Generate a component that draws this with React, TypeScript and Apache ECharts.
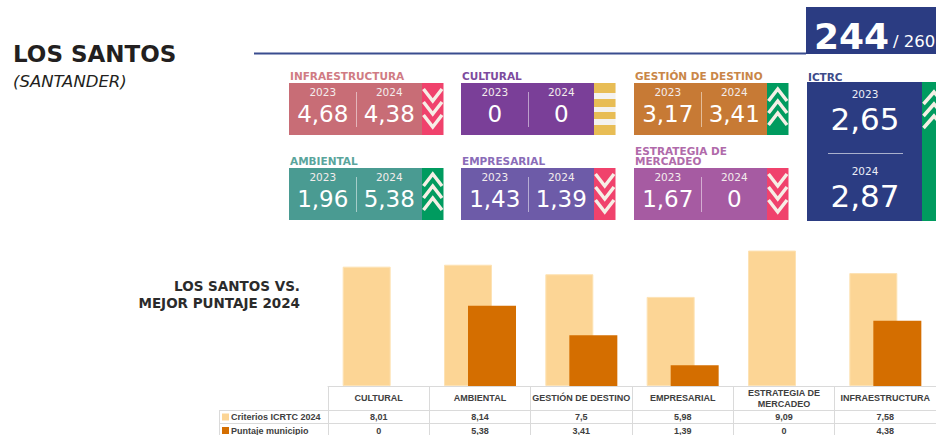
import React, { useEffect, useRef } from 'react';
import * as echarts from 'echarts';

// ---- Data ----
const municipio = 'LOS SANTOS';
const departamento = '(SANTANDER)';
const rankValue = 244;
const rankTotal = 260;

const cardNames = ['INFRAESTRUCTURA', 'CULTURAL', 'GESTIÓN DE DESTINO', 'AMBIENTAL', 'EMPRESARIAL', 'ESTRATEGIA DE\nMERCADEO'];
const cardValues2023 = [4.68, 0, 3.17, 1.96, 1.43, 1.67];
const cardValues2024 = [4.38, 0, 3.41, 5.38, 1.39, 0];
const cardYears = ['2023', '2024'];
const ictrcLabel = 'ICTRC';
const ictrcValues = [2.65, 2.87];

const chartTitle = 'LOS SANTOS VS.\nMEJOR PUNTAJE 2024';
const categories = ['CULTURAL', 'AMBIENTAL', 'GESTIÓN DE DESTINO', 'EMPRESARIAL', 'ESTRATEGIA DE\nMERCADEO', 'INFRAESTRUCTURA'];
const criterios2024 = [8.01, 8.14, 7.5, 5.98, 9.09, 7.58];
const puntajeMunicipio = [0, 5.38, 3.41, 1.39, 0, 4.38];
const seriesNames = ['Criterios ICRTC 2024', 'Puntaje municipio'];

// ---- Styles ----
const fmt = (v: number) => String(v).replace('.', ',');
const HEAD = 'DejaVu Sans';
const TABLE = 'Liberation Sans';
const cardMain = ['#c86d76', '#7a3f98', '#c77a35', '#4a9b92', '#6d5ba8', '#a65ba2'];
const cardLabel = ['#d07b83', '#7d4b9e', '#c98648', '#5aa59c', '#8a6cb8', '#b06aaa'];
const UP = '#009b5f';
const DOWN = '#f0426c';
const FLAT = '#e8bd55';
const CHEV = '#f6efe6';
const NAVY = '#2b3c82';
const LIGHT = '#fcd595';
const DARK = '#d46e00';
const colX = [289, 461, 634];
const rowY = [83, 168];
const MAINW = 133;
const STRIPW = 21.5;
const CARDH = 52;

function chevrons(x0: number, w: number, up: boolean, starts: number[]) {
  return starts.map((yy) => ({
    type: 'polyline',
    shape: {
      points: up
        ? [[x0 + 1.5, yy + 12], [x0 + w / 2, yy], [x0 + w - 1.5, yy + 12]]
        : [[x0 + 1.5, yy], [x0 + w / 2, yy + 12], [x0 + w - 1.5, yy]],
    },
    style: { stroke: CHEV, lineWidth: 3.5, fill: null, lineJoin: 'miter' },
    silent: true,
  }));
}

function buildGraphics() {
  const g: any[] = [];
  // Title
  g.push({ type: 'text', x: 13, y: 54, style: { text: municipio, fill: '#231f20', fontFamily: HEAD, fontWeight: 'bold', fontSize: 23, verticalAlign: 'middle' } });
  g.push({ type: 'text', x: 13, y: 81, style: { text: departamento, fill: '#231f20', fontFamily: HEAD, fontStyle: 'italic', fontSize: 16.5, verticalAlign: 'middle' } });
  // header line & rank box
  g.push({ type: 'line', shape: { x1: 254, y1: 53.5, x2: 806, y2: 53.5 }, style: { stroke: '#3a4d8f', lineWidth: 2 } });
  g.push({ type: 'rect', shape: { x: 806, y: 7, width: 140, height: 47 }, style: { fill: NAVY } });
  g.push({ type: 'text', x: 814, y: 36, style: { text: String(rankValue), fill: '#ffffff', fontFamily: HEAD, fontWeight: 'bold', fontSize: 36, verticalAlign: 'middle' } });
  g.push({ type: 'text', x: 893, y: 41, style: { text: '/ ' + rankTotal, fill: '#ffffff', fontFamily: HEAD, fontSize: 16.5, verticalAlign: 'middle' } });

  // cards
  cardNames.forEach((name, i) => {
    const x = colX[i % 3];
    const y = rowY[Math.floor(i / 3)];
    const v23 = cardValues2023[i];
    const v24 = cardValues2024[i];
    g.push({ type: 'text', x: x + 1, y: y - 1.5, style: { text: name, fill: cardLabel[i], fontFamily: HEAD, fontWeight: 'bold', fontSize: 10.5, lineHeight: 10.5, verticalAlign: 'bottom' } });
    g.push({ type: 'rect', shape: { x, y, width: MAINW, height: CARDH }, style: { fill: cardMain[i] } });
    const sx = x + MAINW;
    if (v24 > v23) {
      g.push({ type: 'rect', shape: { x: sx, y, width: STRIPW, height: CARDH }, style: { fill: UP } });
      g.push(...chevrons(sx, STRIPW, true, [y + 6, y + 18, y + 30]));
    } else if (v24 < v23) {
      g.push({ type: 'rect', shape: { x: sx, y, width: STRIPW, height: CARDH }, style: { fill: DOWN } });
      g.push(...chevrons(sx, STRIPW, false, [y + 6, y + 19, y + 32]));
    } else {
      g.push({ type: 'rect', shape: { x: sx, y, width: STRIPW, height: CARDH }, style: { fill: '#f4f2f0' } });
      [[0, 10], [16, 8], [29, 7], [42, 10]].forEach(([o, h]) => {
        g.push({ type: 'rect', shape: { x: sx, y: y + o, width: STRIPW, height: h }, style: { fill: FLAT } });
      });
    }
    const half = MAINW / 2;
    g.push({ type: 'line', shape: { x1: x + half + 1, y1: y + 9, x2: x + half + 1, y2: y + 44 }, style: { stroke: 'rgba(255,255,255,0.5)', lineWidth: 1 } });
    [v23, v24].forEach((v, k) => {
      const cx = x + half / 2 + k * half + 0.5;
      g.push({ type: 'text', x: cx, y: y + 9, style: { text: cardYears[k], fill: '#f3ecec', fontFamily: HEAD, fontSize: 10.5, align: 'center', verticalAlign: 'middle' } });
      g.push({ type: 'text', x: cx, y: y + 31, style: { text: fmt(v), fill: '#ffffff', fontFamily: HEAD, fontSize: 23, align: 'center', verticalAlign: 'middle' } });
    });
  });

  // ICTRC
  g.push({ type: 'text', x: 808, y: 76.5, style: { text: ictrcLabel, fill: '#3d4b8a', fontFamily: HEAD, fontWeight: 'bold', fontSize: 10.5, verticalAlign: 'middle' } });
  g.push({ type: 'rect', shape: { x: 807, y: 82, width: 115, height: 139 }, style: { fill: NAVY } });
  g.push({ type: 'rect', shape: { x: 922, y: 82, width: 24, height: 139 }, style: { fill: UP } });
  g.push(...chevrons(922, 24, true, [92, 104, 116]));
  g.push({ type: 'line', shape: { x1: 828, y1: 153.5, x2: 903, y2: 153.5 }, style: { stroke: 'rgba(255,255,255,0.6)', lineWidth: 1 } });
  ictrcValues.forEach((v, k) => {
    const base = k === 0 ? 94 : 171;
    g.push({ type: 'text', x: 865, y: base, style: { text: cardYears[k], fill: '#eceef6', fontFamily: HEAD, fontSize: 10.5, align: 'center', verticalAlign: 'middle' } });
    g.push({ type: 'text', x: 865, y: base + 24.5, style: { text: fmt(v), fill: '#ffffff', fontFamily: HEAD, fontSize: 31, align: 'center', verticalAlign: 'middle' } });
  });

  // chart title
  g.push({ type: 'text', x: 300, y: 294.5, style: { text: chartTitle, fill: '#2b2b2b', fontFamily: HEAD, fontWeight: 'bold', fontSize: 13.5, lineHeight: 16.5, align: 'right', verticalAlign: 'middle' } });

  // table lines
  const gray = '#dadada';
  g.push({ type: 'line', shape: { x1: 219, y1: 410.5, x2: 946, y2: 410.5 }, style: { stroke: gray, lineWidth: 1 } });
  g.push({ type: 'line', shape: { x1: 219, y1: 423.5, x2: 946, y2: 423.5 }, style: { stroke: gray, lineWidth: 1 } });
  g.push({ type: 'line', shape: { x1: 219.5, y1: 410.5, x2: 219.5, y2: 435 }, style: { stroke: gray, lineWidth: 1 } });

  // table legend column
  [LIGHT, DARK].forEach((c, k) => {
    const cy = k === 0 ? 417 : 430.5;
    g.push({ type: 'rect', shape: { x: 222, y: cy - 3.5, width: 7, height: 7 }, style: { fill: c } });
    g.push({ type: 'text', x: 231, y: cy, style: { text: seriesNames[k], fill: '#404040', fontFamily: TABLE, fontWeight: 'bold', fontSize: 9, verticalAlign: 'middle' } });
  });
  return g;
}

export default function App() {
  const ref = useRef<HTMLDivElement>(null);
  useEffect(() => {
    if (!ref.current) return;
    const chart = echarts.init(ref.current, null, { renderer: 'svg' });
    const labelAxis = (labels: string[], margin: number) => ({
      type: 'category',
      gridIndex: 0,
      position: 'bottom',
      data: labels,
      axisLine: { show: false },
      axisTick: { show: false },
      axisLabel: {
        interval: 0,
        margin,
        color: '#404040',
        fontFamily: TABLE,
        fontWeight: 'bold',
        fontSize: 9,
        verticalAlign: 'middle',
      },
    });
    chart.setOption({
      animation: false,
      backgroundColor: '#ffffff',
      grid: { left: 328, top: 237, width: 618, height: 149, containLabel: false },
      xAxis: [
        {
          type: 'category',
          data: categories,
          axisLine: { show: true, lineStyle: { color: '#dadada', width: 1 } },
          axisTick: { show: true, length: 49, lineStyle: { color: '#dadada' } },
          axisLabel: {
            interval: 0,
            margin: 12,
            color: '#404040',
            fontFamily: TABLE,
            fontWeight: 'bold',
            fontSize: 9,
            lineHeight: 11,
            align: 'center',
            verticalAlign: 'middle',
          },
        },
        labelAxis(criterios2024.map(fmt), 31),
        labelAxis(puntajeMunicipio.map(fmt), 44.5),
      ],
      yAxis: { type: 'value', min: 0, max: 10, show: false, splitLine: { show: false } },
      series: [
        {
          name: seriesNames[0],
          type: 'bar',
          data: criterios2024,
          barWidth: 48,
          barGap: '-50%',
          itemStyle: { color: LIGHT, borderColor: '#fde2b4', borderWidth: 1 },
        },
        {
          name: seriesNames[1],
          type: 'bar',
          data: puntajeMunicipio,
          barWidth: 48,
          barGap: '-50%',
          itemStyle: { color: DARK, borderWidth: 0 },
        },
      ],
      graphic: buildGraphics(),
    });
    return () => chart.dispose();
  }, []);
  return <div ref={ref} style={{ position: 'absolute', left: 0, top: 0, width: 936, height: 435 }} />;
}
